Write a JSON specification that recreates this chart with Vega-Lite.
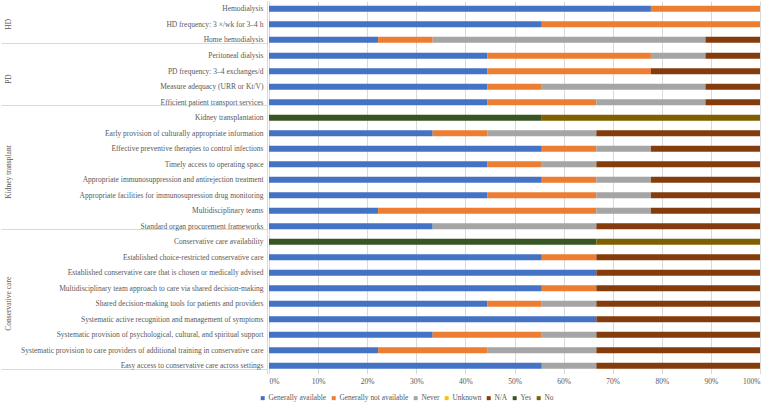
{
  "$schema": "https://vega.github.io/schema/vega-lite/v6.json",
  "padding": {"left": 0, "top": -3, "right": 8, "bottom": 0},
  "background": "white",
  "bounds": "flush",
  "data": {"values": [
    {"g": "HD", "item": "Hemodialysis", "s": "Generally available", "n": 7},
    {"g": "HD", "item": "Hemodialysis", "s": "Generally not available", "n": 2},
    {"g": "HD", "item": "HD frequency: 3 ×/wk for 3–4 h", "s": "Generally available", "n": 5},
    {"g": "HD", "item": "HD frequency: 3 ×/wk for 3–4 h", "s": "Generally not available", "n": 4},
    {"g": "HD", "item": "Home hemodialysis", "s": "Generally available", "n": 2},
    {"g": "HD", "item": "Home hemodialysis", "s": "Generally not available", "n": 1},
    {"g": "HD", "item": "Home hemodialysis", "s": "Never", "n": 5},
    {"g": "HD", "item": "Home hemodialysis", "s": "N/A", "n": 1},
    {"g": "PD", "item": "Peritoneal dialysis", "s": "Generally available", "n": 4},
    {"g": "PD", "item": "Peritoneal dialysis", "s": "Generally not available", "n": 3},
    {"g": "PD", "item": "Peritoneal dialysis", "s": "Never", "n": 1},
    {"g": "PD", "item": "Peritoneal dialysis", "s": "N/A", "n": 1},
    {"g": "PD", "item": "PD frequency: 3–4 exchanges/d", "s": "Generally available", "n": 4},
    {"g": "PD", "item": "PD frequency: 3–4 exchanges/d", "s": "Generally not available", "n": 3},
    {"g": "PD", "item": "PD frequency: 3–4 exchanges/d", "s": "N/A", "n": 2},
    {"g": "PD", "item": "Measure adequacy (URR or Kt/V)", "s": "Generally available", "n": 4},
    {"g": "PD", "item": "Measure adequacy (URR or Kt/V)", "s": "Generally not available", "n": 1},
    {"g": "PD", "item": "Measure adequacy (URR or Kt/V)", "s": "Never", "n": 3},
    {"g": "PD", "item": "Measure adequacy (URR or Kt/V)", "s": "N/A", "n": 1},
    {"g": "PD", "item": "Efficient patient transport services", "s": "Generally available", "n": 4},
    {"g": "PD", "item": "Efficient patient transport services", "s": "Generally not available", "n": 2},
    {"g": "PD", "item": "Efficient patient transport services", "s": "Never", "n": 2},
    {"g": "PD", "item": "Efficient patient transport services", "s": "N/A", "n": 1},
    {"g": "Kidney transplant", "item": "Kidney transplantation", "s": "Yes", "n": 5},
    {"g": "Kidney transplant", "item": "Kidney transplantation", "s": "No", "n": 4},
    {"g": "Kidney transplant", "item": "Early provision of culturally appropriate information", "s": "Generally available", "n": 3},
    {"g": "Kidney transplant", "item": "Early provision of culturally appropriate information", "s": "Generally not available", "n": 1},
    {"g": "Kidney transplant", "item": "Early provision of culturally appropriate information", "s": "Never", "n": 2},
    {"g": "Kidney transplant", "item": "Early provision of culturally appropriate information", "s": "N/A", "n": 3},
    {"g": "Kidney transplant", "item": "Effective preventive therapies to control infections", "s": "Generally available", "n": 5},
    {"g": "Kidney transplant", "item": "Effective preventive therapies to control infections", "s": "Generally not available", "n": 1},
    {"g": "Kidney transplant", "item": "Effective preventive therapies to control infections", "s": "Never", "n": 1},
    {"g": "Kidney transplant", "item": "Effective preventive therapies to control infections", "s": "N/A", "n": 2},
    {"g": "Kidney transplant", "item": "Timely access to operating space", "s": "Generally available", "n": 4},
    {"g": "Kidney transplant", "item": "Timely access to operating space", "s": "Generally not available", "n": 1},
    {"g": "Kidney transplant", "item": "Timely access to operating space", "s": "Never", "n": 1},
    {"g": "Kidney transplant", "item": "Timely access to operating space", "s": "N/A", "n": 3},
    {"g": "Kidney transplant", "item": "Appropriate immunosuppression and antirejection treatment", "s": "Generally available", "n": 5},
    {"g": "Kidney transplant", "item": "Appropriate immunosuppression and antirejection treatment", "s": "Generally not available", "n": 1},
    {"g": "Kidney transplant", "item": "Appropriate immunosuppression and antirejection treatment", "s": "Never", "n": 1},
    {"g": "Kidney transplant", "item": "Appropriate immunosuppression and antirejection treatment", "s": "N/A", "n": 2},
    {"g": "Kidney transplant", "item": "Appropriate facilities for immunosupression drug monitoring", "s": "Generally available", "n": 4},
    {"g": "Kidney transplant", "item": "Appropriate facilities for immunosupression drug monitoring", "s": "Generally not available", "n": 2},
    {"g": "Kidney transplant", "item": "Appropriate facilities for immunosupression drug monitoring", "s": "Never", "n": 1},
    {"g": "Kidney transplant", "item": "Appropriate facilities for immunosupression drug monitoring", "s": "N/A", "n": 2},
    {"g": "Kidney transplant", "item": "Multidisciplinary teams", "s": "Generally available", "n": 2},
    {"g": "Kidney transplant", "item": "Multidisciplinary teams", "s": "Generally not available", "n": 4},
    {"g": "Kidney transplant", "item": "Multidisciplinary teams", "s": "Never", "n": 1},
    {"g": "Kidney transplant", "item": "Multidisciplinary teams", "s": "N/A", "n": 2},
    {"g": "Kidney transplant", "item": "Standard organ procurement frameworks", "s": "Generally available", "n": 3},
    {"g": "Kidney transplant", "item": "Standard organ procurement frameworks", "s": "Never", "n": 3},
    {"g": "Kidney transplant", "item": "Standard organ procurement frameworks", "s": "N/A", "n": 3},
    {"g": "Conservative care", "item": "Conservative care availability", "s": "Yes", "n": 6},
    {"g": "Conservative care", "item": "Conservative care availability", "s": "No", "n": 3},
    {"g": "Conservative care", "item": "Established choice-restricted conservative care", "s": "Generally available", "n": 5},
    {"g": "Conservative care", "item": "Established choice-restricted conservative care", "s": "Generally not available", "n": 1},
    {"g": "Conservative care", "item": "Established choice-restricted conservative care", "s": "N/A", "n": 3},
    {"g": "Conservative care", "item": "Established conservative care that is chosen or medically advised", "s": "Generally available", "n": 6},
    {"g": "Conservative care", "item": "Established conservative care that is chosen or medically advised", "s": "N/A", "n": 3},
    {"g": "Conservative care", "item": "Multidisciplinary team approach to care via shared decision-making", "s": "Generally available", "n": 5},
    {"g": "Conservative care", "item": "Multidisciplinary team approach to care via shared decision-making", "s": "Generally not available", "n": 1},
    {"g": "Conservative care", "item": "Multidisciplinary team approach to care via shared decision-making", "s": "N/A", "n": 3},
    {"g": "Conservative care", "item": "Shared decision-making tools for patients and providers", "s": "Generally available", "n": 4},
    {"g": "Conservative care", "item": "Shared decision-making tools for patients and providers", "s": "Generally not available", "n": 1},
    {"g": "Conservative care", "item": "Shared decision-making tools for patients and providers", "s": "Never", "n": 1},
    {"g": "Conservative care", "item": "Shared decision-making tools for patients and providers", "s": "N/A", "n": 3},
    {"g": "Conservative care", "item": "Systematic active recognition and management of symptoms", "s": "Generally available", "n": 6},
    {"g": "Conservative care", "item": "Systematic active recognition and management of symptoms", "s": "N/A", "n": 3},
    {"g": "Conservative care", "item": "Systematic provision of psychological, cultural, and spiritual support", "s": "Generally available", "n": 3},
    {"g": "Conservative care", "item": "Systematic provision of psychological, cultural, and spiritual support", "s": "Generally not available", "n": 2},
    {"g": "Conservative care", "item": "Systematic provision of psychological, cultural, and spiritual support", "s": "Never", "n": 1},
    {"g": "Conservative care", "item": "Systematic provision of psychological, cultural, and spiritual support", "s": "N/A", "n": 3},
    {"g": "Conservative care", "item": "Systematic provision to care providers of additional training in conservative care", "s": "Generally available", "n": 2},
    {"g": "Conservative care", "item": "Systematic provision to care providers of additional training in conservative care", "s": "Generally not available", "n": 2},
    {"g": "Conservative care", "item": "Systematic provision to care providers of additional training in conservative care", "s": "Never", "n": 2},
    {"g": "Conservative care", "item": "Systematic provision to care providers of additional training in conservative care", "s": "N/A", "n": 3},
    {"g": "Conservative care", "item": "Easy access to conservative care across settings", "s": "Generally available", "n": 5},
    {"g": "Conservative care", "item": "Easy access to conservative care across settings", "s": "Never", "n": 1},
    {"g": "Conservative care", "item": "Easy access to conservative care across settings", "s": "N/A", "n": 3}
  ]},
  "transform": [
    {"calculate": "indexof(['Generally available','Generally not available','Never','Unknown','N/A','Yes','No'], datum.s)", "as": "ord"}
  ],
  "facet": {
    "row": {
      "field": "g", "type": "nominal",
      "sort": ["HD", "PD", "Kidney transplant", "Conservative care"],
      "header": {"title": null, "labelAngle": -90, "labelOrient": "left", "labelFont": "Liberation Serif", "labelFontSize": 7.5, "labelColor": "#595959", "labelPadding": 253}
    }
  },
  "spacing": 0,
  "resolve": {"scale": {"y": "independent"}},
  "spec": {
    "width": 491,
    "height": {"step": 15.5},
    "mark": {"type": "bar", "size": 6},
    "encoding": {
      "y": {
        "field": "item", "type": "nominal", "sort": null,
        "scale": {"paddingInner": 0.6, "paddingOuter": 0.3, "round": false},
        "axis": {
          "title": null,
          "domain": true, "domainColor": "#d9d9d9", "offset": 2,
          "ticks": true, "tickBand": "extent", "tickSize": 266,
          "tickColor": {"condition": {"test": "indexof(['Home hemodialysis','Efficient patient transport services','Standard organ procurement frameworks','Easy access to conservative care across settings'], datum.value) >= 0", "value": "#d9d9d9"}, "value": "transparent"},
          "labelPadding": -262, "labelLimit": 0,
          "labelFont": "Liberation Serif", "labelFontSize": 7.5, "labelColor": "#595959"
        }
      },
      "x": {
        "field": "n", "type": "quantitative", "stack": "normalize",
        "scale": {"domain": [0, 1]},
        "axis": {"title": null, "format": "%", "values": [0, 0.1, 0.2, 0.3, 0.4, 0.5, 0.6, 0.7, 0.8, 0.9, 1], "domain": false, "ticks": false, "grid": true, "gridColor": "#d9d9d9", "labelPadding": 3, "labelFont": "Liberation Serif", "labelFontSize": 7.5, "labelColor": "#595959"}
      },
      "order": {"field": "ord", "type": "quantitative"},
      "color": {
        "field": "s", "type": "nominal",
        "scale": {
          "domain": ["Generally available", "Generally not available", "Never", "Unknown", "N/A", "Yes", "No"],
          "range": ["#4472C4", "#ED7D31", "#A5A5A5", "#FFC000", "#843C0C", "#375623", "#7F6000"]
        },
        "legend": {"title": null, "orient": "none", "legendX": -10, "legendY": 393, "direction": "horizontal", "symbolType": "square", "symbolSize": 16, "symbolStrokeWidth": 0, "labelOffset": 2, "labelFont": "Liberation Serif", "labelFontSize": 7.4, "labelColor": "#595959", "columnPadding": 3, "padding": 0}
      }
    }
  },
  "config": {"view": {"stroke": null}}
}
